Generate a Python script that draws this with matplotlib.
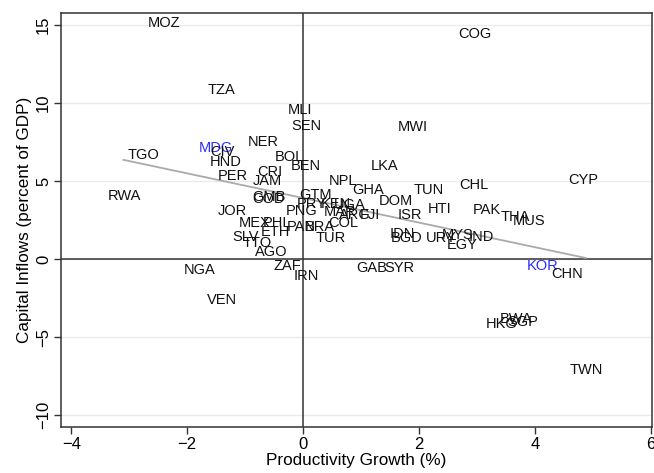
import matplotlib
matplotlib.use("Agg")
import matplotlib.pyplot as plt

plt.rcParams['font.family'] = ['Liberation Sans', 'DejaVu Sans']

codes = ["MOZ","COG","TZA","MLI","SEN","MWI","NER","MDG","CIV","TGO","HND","BOL","BEN","LKA",
         "CRI","PER","JAM","NPL","CYP","CHL","TUN","GHA","GTM","RWA","GMB","COD","DOM","PRY",
         "KEN","UGA","HTI","PAK","MAR","ARG","FJI","JOR","PNG","ISR","THA","MUS","COL","MEX",
         "PHL","ETH","PAN","BRA","IDN","BGD","MYS","URY","IND","EGY","SLV","TUR","TTO","AGO",
         "KOR","CHN","NGA","ZAF","IRN","GAB","SYR","VEN","BWA","HKG","SGP","TWN"]
prod_growth = [-2.40,2.97,-1.40,-0.05,0.05,1.90,-0.69,-1.50,-1.40,-2.76,-1.33,-0.24,0.05,1.40,
               -0.57,-1.22,-0.62,0.69,4.83,2.95,2.16,1.12,0.22,-3.09,-0.59,-0.59,1.60,0.14,
               0.57,0.81,2.36,3.17,0.64,0.90,1.16,-1.22,-0.03,1.84,3.66,3.90,0.69,-0.84,
               -0.45,-0.48,-0.03,0.29,1.72,1.78,2.67,2.38,3.07,2.74,-1.00,0.47,-0.79,-0.55,
               4.14,4.55,-1.79,-0.28,0.05,1.19,1.67,-1.40,3.67,3.43,3.79,4.88]
cap_inflows = [15.13,14.42,10.83,9.55,8.53,8.46,7.50,7.12,6.86,6.67,6.22,6.54,5.96,5.96,
               5.58,5.32,5.00,5.00,5.06,4.74,4.42,4.42,4.10,4.04,3.97,3.85,3.72,3.53,
               3.53,3.46,3.21,3.14,3.01,2.82,2.82,3.08,3.08,2.82,2.69,2.44,2.31,2.31,
               2.31,1.73,2.05,2.05,1.60,1.35,1.54,1.35,1.41,0.90,1.41,1.35,1.03,0.45,
               -0.45,-0.96,-0.71,-0.45,-1.09,-0.58,-0.58,-2.63,-3.85,-4.17,-4.04,-7.12]
highlight = ["MDG", "KOR"]

fit_x = [-3.10, 4.88]
fit_y = [6.35, 0.06]

xticks = [-4, -2, 0, 2, 4, 6]
yticks = [-10, -5, 0, 5, 10, 15]

fig = plt.figure(figsize=(6.54, 4.73), dpi=100)
ax = fig.add_axes([0.093, 0.097, 0.904, 0.876])

ax.set_xlim(-4.18, 6.02)
ax.set_ylim(-10.77, 15.77)

for yt in yticks:
    ax.axhline(yt, color="#ebebeb", lw=1.0, zorder=0)
ax.axhline(0, color="#333333", lw=1.1, zorder=1)
ax.axvline(0, color="#333333", lw=1.1, zorder=1)

ax.plot(fit_x, fit_y, color="#aaaaaa", lw=1.3, zorder=2)

for c, x, y in zip(codes, prod_growth, cap_inflows):
    col = "#2a2aff" if c in highlight else "#111111"
    ax.text(x, y, c, ha="center", va="center", fontsize=10.5, color=col, zorder=3)

ax.set_xticks(xticks)
ax.set_yticks(yticks)
ax.set_xticklabels([str(t).replace("-", "\u2212") for t in xticks], fontsize=12)
ax.set_yticklabels([str(t).replace("-", "\u2212") for t in yticks], fontsize=12,
                   rotation=90, va="center")
ax.tick_params(direction="out", length=5, width=1, color="#333333", pad=2)
for s in ax.spines.values():
    s.set_color("#333333")
    s.set_linewidth(1.1)

ax.set_xlabel("Productivity Growth (%)", fontsize=12.3, labelpad=1)
ax.set_ylabel("Capital Inflows (percent of GDP)", fontsize=12.3, labelpad=3)

fig.savefig("out.png", dpi=100)
